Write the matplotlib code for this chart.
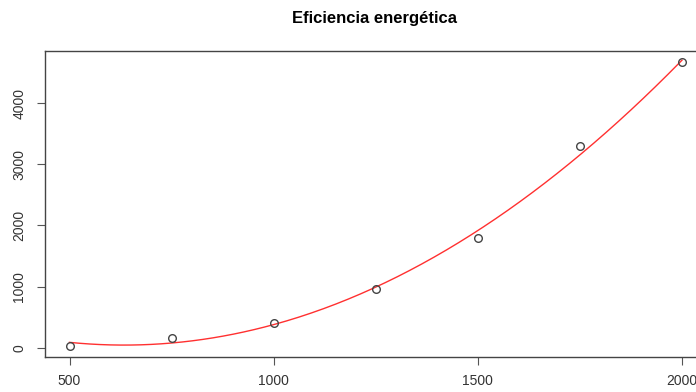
import numpy as np
import matplotlib
matplotlib.use("Agg")
import matplotlib.pyplot as plt

plt.rcParams['font.family'] = ['Liberation Sans', 'DejaVu Sans']

# datos observados
potencia = [500, 750, 1000, 1250, 1500, 1750, 2000]
consumo = [35, 167, 407, 955, 1790, 3292, 4667]

# ajuste cuadratico (como lm(y ~ poly(x, 2)))
coef = np.polyfit(potencia, consumo, 2)
xs = np.linspace(min(potencia), max(potencia), 300)
ys = np.polyval(coef, xs)

fig = plt.figure(figsize=(6.96, 3.92), dpi=100)
ax = fig.add_axes([45 / 696, 35 / 392, (706.5 - 45) / 696, (357 - 51) / 392])

ax.plot(xs, ys, color='#ff3030', lw=1)
ax.plot(potencia, consumo, 'o', mfc='none', mec='#444444', ms=5.5, mew=1)

xr = max(potencia) - min(potencia)
ax.set_xlim(min(potencia) - 0.04 * xr, max(potencia) + 0.04 * xr)
yr = max(consumo) - min(consumo)
ax.set_ylim(min(consumo) - 0.04 * yr, max(consumo) + 0.04 * yr)

ax.set_xticks([500, 1000, 1500, 2000])
ax.set_yticks([0, 1000, 2000, 3000, 4000])
ax.tick_params(axis='x', length=6, width=0.8, pad=6, labelsize=10,
               color='#555555', labelcolor='#333333')
ax.tick_params(axis='y', length=6, width=0.8, pad=7.5, labelsize=10,
               color='#555555', labelcolor='#333333')
for lab in ax.get_yticklabels():
    lab.set_rotation(90)
    lab.set_va('center')

for s in ax.spines.values():
    s.set_color('#444444')
    s.set_linewidth(1)

fig.text(375, 392 - 18, 'Eficiencia energética', transform=None,
         ha='center', va='center', fontsize=12, fontweight='bold')

fig.savefig('out.png', dpi=100)
